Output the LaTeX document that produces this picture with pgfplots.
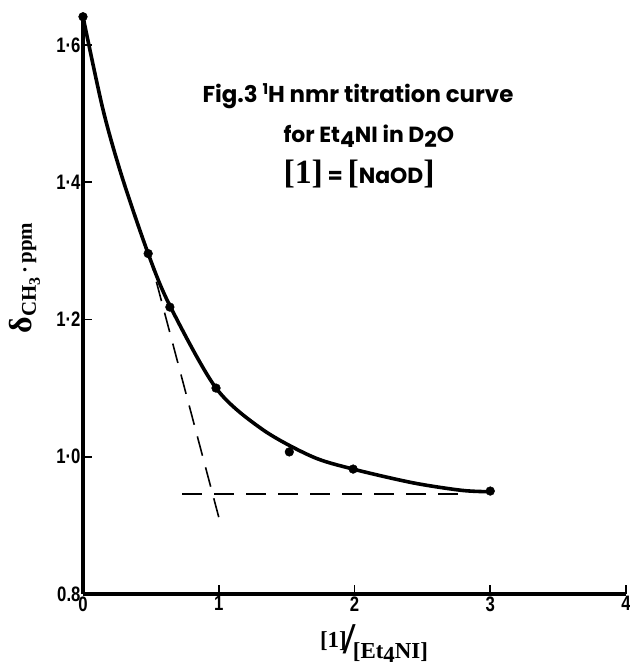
\documentclass[border=0pt]{standalone}
\usepackage{pgfplots}
\pgfplotsset{compat=1.18}
\usepackage{fontspec}
\newfontfamily\tickfont[FakeStretch=0.8]{Liberation Sans}
\newfontfamily\titlefont{Poppins}
\newfontfamily\labfont{Liberation Serif}
\begin{document}
\begin{tikzpicture}
\begin{axis}[
    scale only axis,
    width=543bp, height=580bp,
    xmin=0, xmax=4, ymin=0.8, ymax=1.645,
    axis x line=bottom, axis y line=left,
    axis line style={-, line width=3.3pt},
    xtick={0,1,2,3,4},
    ytick={0.8,1.0,1.2,1.4,1.6},
    yticklabels={0.8,1·0,1·2,1·4,1·6},
    tick align=inside,
    major tick length=9bp,
    tick style={line width=1.6pt, black},
    ticklabel style={font=\tickfont\bfseries\fontsize{21}{21}\selectfont},
    xticklabel style={yshift=1bp},
    yticklabel style={xshift=1bp},
    /pgf/number format/assume math mode=true,
    clip=false,
]
% guide lines
\addplot [dash pattern=on 20bp off 12bp, line width=1.6pt] coordinates {(0.48,1.30) (1.0,0.912)};
\addplot [dash pattern=on 20bp off 12bp, line width=1.6pt] coordinates {(0.73,0.946) (2.85,0.946)};
% drawn curve
\addplot [smooth, tension=0.5, line width=3.6pt] coordinates {
    (0,1.641) (0.147,1.506) (0.287,1.408) (0.48,1.296) (0.64,1.22) (0.98,1.10) (1.32,1.04)
    (1.69,1.0) (1.99,0.982) (2.43,0.962) (2.79,0.951) (3.0,0.949)
};
% measured shifts
\addplot [only marks, mark=*, mark size=4.4pt] coordinates {
    (0,1.641) (0.48,1.296) (0.64,1.218) (0.98,1.100) (1.52,1.007) (1.99,0.982) (3.0,0.950)
};
\coordinate (bl) at (rel axis cs:0,0);
\coordinate (tr) at (rel axis cs:1,1);
% text
\node[anchor=base west, font=\titlefont\bfseries\fontsize{23}{23}\selectfont] at (rel axis cs:0.2136,0.8466)
    {Fig.3 \raisebox{8bp}{\fontsize{15}{15}\selectfont 1}H nmr titration curve};
\node[anchor=base west, font=\titlefont\bfseries\fontsize{22}{22}\selectfont] at (rel axis cs:0.3628,0.7776)
    {for Et\raisebox{-5bp}{4}NI in D\raisebox{-5bp}{2}O};
\node[anchor=base west, font=\titlefont\bfseries\fontsize{22}{22}\selectfont] at (rel axis cs:0.3628,0.7086)
    {{\labfont\fontsize{34}{34}\selectfont[1]} = {\labfont\fontsize{34}{34}\selectfont[}NaOD{\labfont\fontsize{34}{34}\selectfont]}};
\node[rotate=90, font=\labfont\bfseries\fontsize{21}{21}\selectfont] at (rel axis cs:-0.107,0.545)
    {{\fontsize{32}{32}\selectfont δ}\raisebox{-4bp}{CH\raisebox{-4bp}{\fontsize{16}{16}\selectfont 3}}\,·\,ppm};
\node[font=\labfont\bfseries\fontsize{23}{23}\selectfont] at (rel axis cs:0.536,-0.086)
    {\raisebox{6bp}{[1]}\kern-3bp{\fontsize{44}{44}\selectfont /}\kern-3bp\raisebox{-5bp}{[Et\raisebox{-4bp}{4}NI]}};
\end{axis}
\pgfresetboundingbox
\path[use as bounding box] ([shift={(-83bp,-74bp)}]bl) rectangle ([shift={(4bp,14bp)}]tr);
\end{tikzpicture}
\end{document}
